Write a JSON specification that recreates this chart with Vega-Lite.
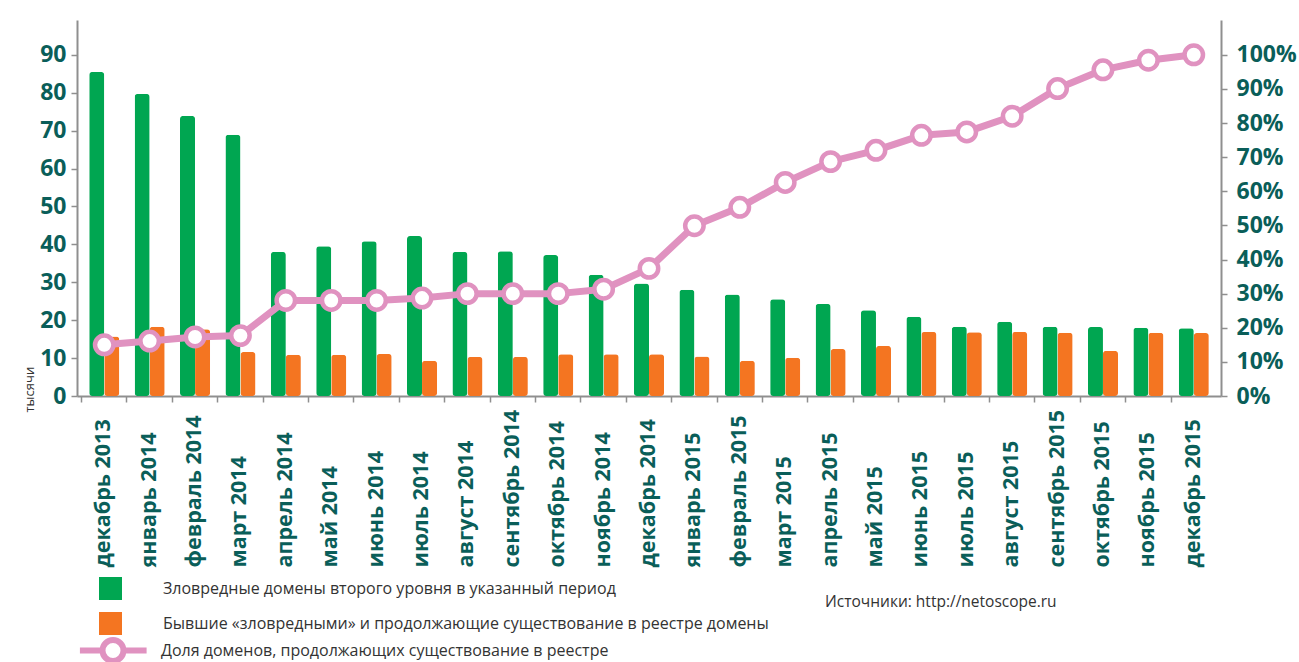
{
  "$schema": "https://vega.github.io/schema/vega-lite/v6.json",
  "width": 1144,
  "height": 376,
  "autosize": {"type": "none"},
  "padding": {"left": 77, "top": 20, "right": 78, "bottom": 266},
  "background": "white",
  "config": {"view": {"stroke": null}, "font": "Open Sans", "axis": {"grid": false}},
  "title": {"text": "Источники: http://netoscope.ru", "orient": "bottom", "anchor": "start", "frame": "group", "dx": 748, "dy": -98, "offset": 20, "fontSize": 15.5, "fontWeight": "normal", "color": "#333333", "font": "Open Sans"},
  "data": {"values": [
    {"month": "декабрь 2013", "malicious": 85.5, "former": 15.7, "share": 15.0},
    {"month": "январь 2014", "malicious": 79.7, "former": 18.3, "share": 16.1},
    {"month": "февраль 2014", "malicious": 73.9, "former": 17.6, "share": 17.3},
    {"month": "март 2014", "malicious": 68.9, "former": 11.6, "share": 17.7},
    {"month": "апрель 2014", "malicious": 38.0, "former": 10.9, "share": 28.0},
    {"month": "май 2014", "malicious": 39.5, "former": 10.9, "share": 28.0},
    {"month": "июнь 2014", "malicious": 40.8, "former": 11.1, "share": 28.0},
    {"month": "июль 2014", "malicious": 42.2, "former": 9.3, "share": 28.7},
    {"month": "август 2014", "malicious": 38.0, "former": 10.3, "share": 30.0},
    {"month": "сентябрь 2014", "malicious": 38.2, "former": 10.3, "share": 30.0},
    {"month": "октябрь 2014", "malicious": 37.2, "former": 11.0, "share": 30.0},
    {"month": "ноябрь 2014", "malicious": 32.0, "former": 11.0, "share": 31.3},
    {"month": "декабрь 2014", "malicious": 29.7, "former": 11.0, "share": 37.4},
    {"month": "январь 2015", "malicious": 28.0, "former": 10.4, "share": 49.9},
    {"month": "февраль 2015", "malicious": 26.8, "former": 9.3, "share": 55.3},
    {"month": "март 2015", "malicious": 25.5, "former": 10.1, "share": 62.6},
    {"month": "апрель 2015", "malicious": 24.3, "former": 12.4, "share": 68.7},
    {"month": "май 2015", "malicious": 22.6, "former": 13.2, "share": 72.0},
    {"month": "июнь 2015", "malicious": 20.9, "former": 16.9, "share": 76.4},
    {"month": "июль 2015", "malicious": 18.3, "former": 16.8, "share": 77.4},
    {"month": "август 2015", "malicious": 19.6, "former": 16.9, "share": 82.0},
    {"month": "сентябрь 2015", "malicious": 18.3, "former": 16.7, "share": 90.1},
    {"month": "октябрь 2015", "malicious": 18.2, "former": 11.9, "share": 95.6},
    {"month": "ноябрь 2015", "malicious": 18.0, "former": 16.7, "share": 98.4},
    {"month": "декабрь 2015", "malicious": 17.9, "former": 16.6, "share": 100.0}
  ]},
  "encoding": {
    "x": {
      "field": "month", "type": "nominal", "sort": null,
      "scale": {"paddingInner": 0, "paddingOuter": 0.1},
      "axis": {
        "orient": "bottom", "title": null, "labelAngle": -90, "labelAlign": "left", "labelBaseline": "middle",
        "labelPadding": 165, "labelFont": "Open Sans", "labelFontSize": 21.5, "labelFontWeight": "bold",
        "labelColor": "#0a5e59", "labelOverlap": false, "labelLimit": 1000,
        "tickSize": 6, "tickWidth": 1.5, "tickColor": "#8f8f8f", "bandPosition": 0,
        "domainColor": "#8f8f8f", "domainWidth": 2
      }
    }
  },
  "layer": [
    {
      "transform": [{"fold": ["malicious", "former"], "as": ["series", "value"]}],
      "mark": {"type": "bar", "cornerRadius": 3},
      "encoding": {
        "xOffset": {"field": "series", "type": "nominal", "sort": ["malicious", "former"], "scale": {"domain": ["malicious", "former"], "paddingInner": 0, "paddingOuter": 0.51}},
        "y": {
          "field": "value", "type": "quantitative",
          "scale": {"domain": [0, 99.2], "nice": false, "zero": true},
          "axis": {
            "orient": "left", "values": [0, 10, 20, 30, 40, 50, 60, 70, 80, 90],
            "domainColor": "#8f8f8f", "domainWidth": 2, "tickColor": "#8f8f8f", "tickSize": 6, "tickWidth": 1.5,
            "labelFont": "Open Sans", "labelFontSize": 23, "labelFontWeight": "bold", "labelColor": "#0a5e59", "labelPadding": 5,
            "title": "тысячи", "titleFont": "Open Sans", "titleFontSize": 13, "titleFontWeight": "normal", "titleColor": "#333333",
            "titleAngle": -90, "titleAlign": "left", "titleBaseline": "alphabetic", "titleX": -44, "titleY": 392
          }
        },
        "fill": {
          "field": "series", "type": "nominal",
          "scale": {"domain": ["malicious", "former"], "range": ["#00a651", "#f47521"]},
          "legend": {
            "title": null, "orient": "none", "legendX": 22, "legendY": 557, "direction": "vertical", "padding": 0,
            "symbolType": "square", "symbolSize": 529, "symbolStrokeWidth": 0,
            "labelFont": "Open Sans", "labelFontSize": 16, "labelColor": "#333333", "labelOffset": 41, "rowPadding": 12, "labelLimit": 1000,
            "labelExpr": "datum.label == 'malicious' ? 'Зловредные домены второго уровня в указанный период' : 'Бывшие «зловредными» и продолжающие существование в реестре домены'",
            "encode": {"symbols": {"update": {"fill": {"signal": "datum.value == 'malicious' ? '#03a876' : '#f47521'"}, "cornerRadius": {"value": 3}}}}
          }
        }
      }
    },
    {
      "encoding": {
        "y": {
          "field": "share", "type": "quantitative",
          "scale": {"domain": [0, 110.2], "nice": false, "zero": true},
          "axis": {
            "orient": "right", "values": [0, 10, 20, 30, 40, 50, 60, 70, 80, 90, 100], "labelExpr": "datum.value + '%'",
            "domainColor": "#8f8f8f", "domainWidth": 2, "tickColor": "#8f8f8f", "tickSize": 6, "tickWidth": 1.5,
            "labelFont": "Open Sans", "labelFontSize": 23, "labelFontWeight": "bold", "labelColor": "#0a5e59", "labelPadding": 9,
            "title": null
          }
        }
      },
      "layer": [
        {
          "mark": {"type": "line", "strokeWidth": 7, "strokeJoin": "round"},
          "encoding": {
            "stroke": {
              "datum": "Доля доменов, продолжающих существование в реестре",
              "scale": {"range": ["#e092c0"]},
              "legend": {
                "title": null, "orient": "none", "legendX": 22.5, "legendY": 617, "padding": 0,
                "symbolType": "M-3.15,0L-1,0M1,0L3.2,0M1,0A1,1,0,1,1,-1,0A1,1,0,1,1,1,0Z",
                "symbolSize": 441, "symbolStrokeWidth": 6,
                "labelFont": "Open Sans", "labelFontSize": 16, "labelColor": "#333333", "labelOffset": 34.5, "labelLimit": 1000,
                "encode": {"symbols": {"update": {"fill": {"value": "white"}, "opacity": {"value": 1}}}}
              }
            }
          }
        },
        {
          "mark": {"type": "point", "shape": "circle", "filled": true, "fill": "white", "stroke": "#e092c0", "strokeWidth": 4.5, "size": 340, "opacity": 1}
        }
      ]
    }
  ],
  "resolve": {"scale": {"y": "independent"}}
}
